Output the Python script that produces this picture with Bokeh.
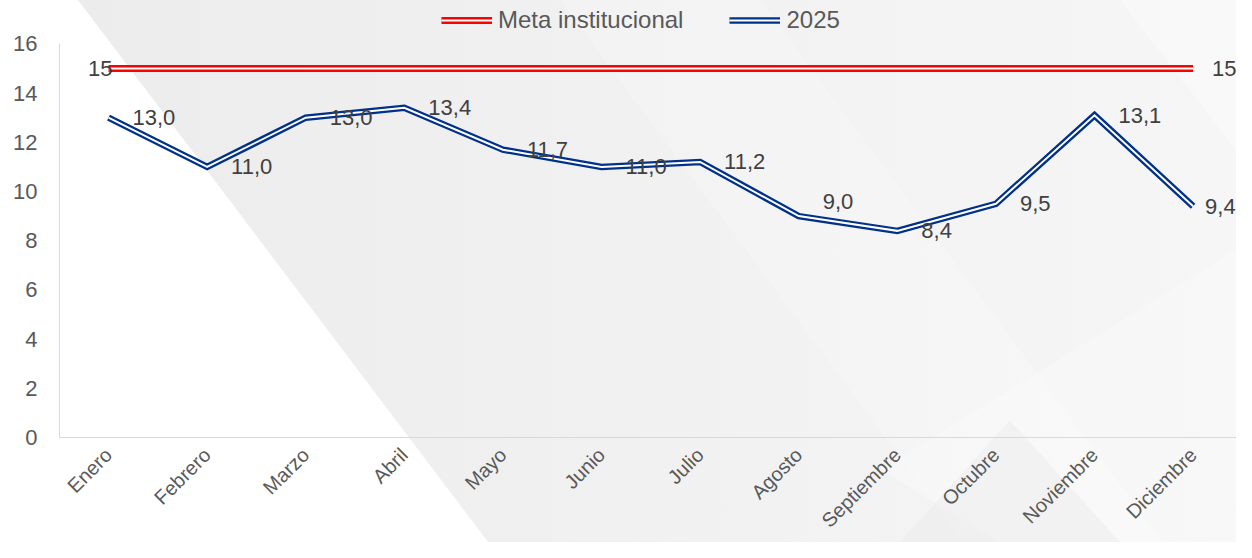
from urllib.parse import quote
from bokeh.plotting import figure
from bokeh.models import (ColumnDataSource, Legend, LegendItem, FixedTicker,
                          InlineStyleSheet, Range1d)
from bokeh.embed import file_html
from bokeh.resources import INLINE
from bokeh.core.properties import value

# ---------------- data ----------------
months = ["Enero", "Febrero", "Marzo", "Abril", "Mayo", "Junio", "Julio",
          "Agosto", "Septiembre", "Octubre", "Noviembre", "Diciembre"]
values_2025 = [13.0, 11.0, 13.0, 13.4, 11.7, 11.0, 11.2, 9.0, 8.4, 9.5, 13.1, 9.4]
meta_value = 15
y_ticks = [0, 2, 4, 6, 8, 10, 12, 14, 16]
series_names = ["Meta institucional", "2025"]

FONT = "Liberation Sans"
W, H = 1236, 542
Y_MAX = 16
FRAME_BOTTOM = 443      # pixel row of value 0
TOP_PX = 44             # pixel row of value 16

xs = list(range(len(months)))
meta = [meta_value] * len(months)
labels_2025 = [f"{v:.1f}".replace(".", ",") for v in values_2025]
label_xoff = [24] * (len(xs) - 1) + [12]
label_yoff = [0] * len(xs)
label_yoff[months.index("Agosto")] = -15   # label nudged above the line

src = ColumnDataSource(dict(x=xs, y=values_2025, meta=meta, lab=labels_2025,
                            xoff=label_xoff, yoff=label_yoff))
meta_src = ColumnDataSource(dict(
    x=[xs[0], xs[-1]], y=[meta[0], meta[-1]],
    lab=[str(meta[0]), str(meta[-1])],
    align=["right", "left"], off=[4, 19]))

# ---------------- background ----------------
svg = (
    f"<svg xmlns='http://www.w3.org/2000/svg' width='{W}' height='{H}'>"
    "<defs>"
    "<linearGradient id='g' x1='0' y1='0' x2='1' y2='0'>"
    "<stop offset='0' stop-color='#ececec'/><stop offset='0.5' stop-color='#f1f1f1'/>"
    "<stop offset='1' stop-color='#f6f6f6'/></linearGradient>"
    "</defs>"
    f"<rect width='{W}' height='{H}' fill='#ffffff'/>"
    f"<polygon points='78,0 {W},0 {W},{H} 488,{H}' fill='url(#g)'/>"
    "<polygon points='560,0 760,0 1236,640 1036,640' fill='#ffffff' fill-opacity='0.2'/>"
    "<polygon points='1120,0 1236,0 1236,150' fill='#ffffff' fill-opacity='0.3'/>"
    "<polygon points='880,470 1236,250 1236,542 1000,542' fill='#ffffff' fill-opacity='0.25'/>"
    "<polygon points='900,542 1010,420 1120,542' fill='#e8e8e8' fill-opacity='0.4'/>"
    "</svg>"
)
bg_css = f':host {{ background-image: url("data:image/svg+xml;utf8,{quote(svg)}"); background-repeat: no-repeat; }}'

# ---------------- figure ----------------
y_top = Y_MAX * FRAME_BOTTOM / (FRAME_BOTTOM - TOP_PX)
p = figure(width=W, height=H, x_range=Range1d(-0.497, 11.44),
           y_range=Range1d(0, y_top),
           output_backend="svg", toolbar_location=None,
           min_border_left=59, min_border_right=0, min_border_top=0,
           min_border_bottom=H - FRAME_BOTTOM)
p.stylesheets = [InlineStyleSheet(css=bg_css)]
p.background_fill_alpha = 0
p.border_fill_alpha = 0
p.outline_line_color = None
p.grid.visible = False

# lines (double-line look: coloured stroke with thin white core)
r1 = p.line("x", "meta", source=src, line_color="#ff0000", line_width=7)
r1w = p.line("x", "meta", source=src, line_color="#ffffff", line_width=2)
r2 = p.line("x", "y", source=src, line_color="#00318a", line_width=6.5,
            line_join="miter")
r2w = p.line("x", "y", source=src, line_color="#ffffff", line_width=2,
             line_join="miter")

# data labels
p.text("x", "y", text="lab", source=src, x_offset="xoff", y_offset="yoff",
       text_align="left", text_baseline="middle", text_font=value(FONT),
       text_font_size="22px", text_color="#404040")
p.text("x", "y", text="lab", source=meta_src, x_offset="off", text_align="align",
       text_baseline="middle", text_font=value(FONT), text_font_size="22px",
       text_color="#404040")

# axes
p.xaxis.ticker = FixedTicker(ticks=xs)
p.xaxis.major_label_overrides = {i: m for i, m in zip(xs, months)}
p.xaxis.major_label_orientation = 0.785398
p.xaxis.major_label_text_font = FONT
p.xaxis.major_label_text_font_size = "20px"
p.xaxis.major_label_text_color = "#595959"
p.xaxis.major_label_standoff = 8
p.xaxis.major_tick_line_color = None
p.xaxis.minor_tick_line_color = None
p.xaxis.axis_line_color = "#d9d9d9"

p.yaxis.ticker = FixedTicker(ticks=y_ticks)
p.yaxis.bounds = (0, Y_MAX)
p.yaxis.major_label_text_font = FONT
p.yaxis.major_label_text_font_size = "22px"
p.yaxis.major_label_text_color = "#595959"
p.yaxis.major_label_standoff = 16
p.yaxis.major_tick_line_color = None
p.yaxis.minor_tick_line_color = None
p.yaxis.axis_line_color = "#d9d9d9"

# legend (inside the frame, above the value 16)
legend = Legend(items=[LegendItem(label=series_names[0], renderers=[r1, r1w]),
                       LegendItem(label=series_names[1], renderers=[r2, r2w])],
                orientation="horizontal", location=(382, FRAME_BOTTOM - 40),
                glyph_width=51, glyph_height=24, label_height=24,
                label_standoff=6, spacing=46, padding=0, margin=0,
                border_line_color=None, background_fill_alpha=0,
                label_text_font=FONT, label_text_font_size="24px",
                label_text_color="#595959", label_text_baseline="middle")
p.add_layout(legend)

open("out.html", "w").write(file_html(p, INLINE))
